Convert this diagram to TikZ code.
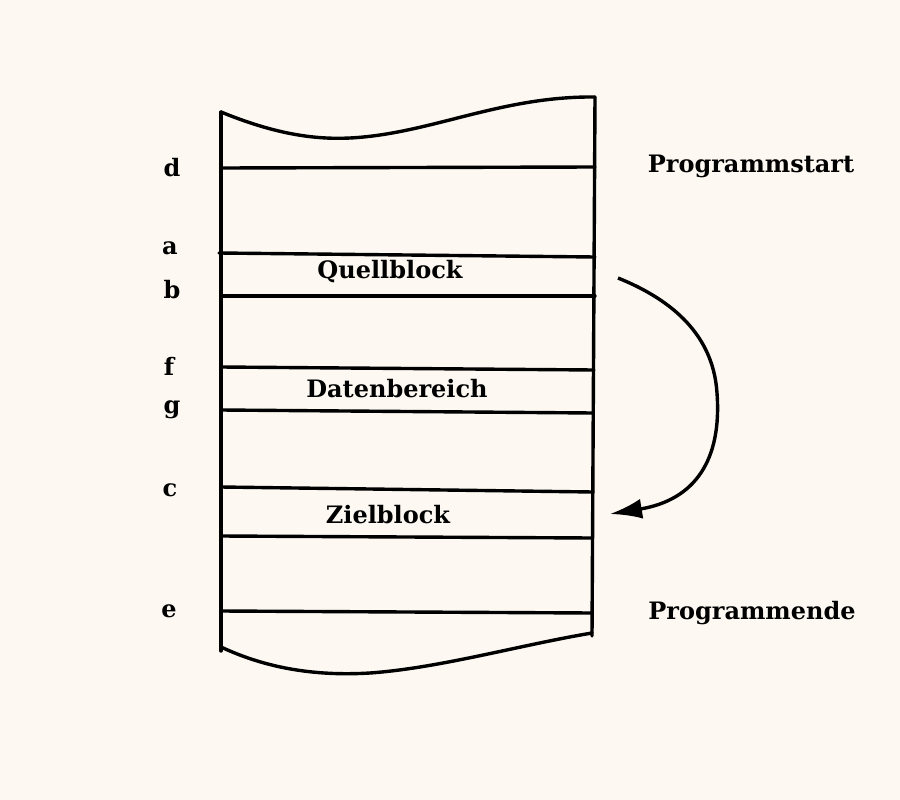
\documentclass[tikz,border=0pt]{standalone}
\usepackage{fontspec}
\setmainfont{DejaVu Serif}
\usetikzlibrary{arrows.meta}
\definecolor{bg}{HTML}{FDF9F2}
\begin{document}
\begin{tikzpicture}[x=1pt,y=-1pt,
  ln/.style={line width=3.4pt,line cap=round},
  lbl/.style={font=\fontsize{24}{28}\selectfont\bfseries,inner sep=0pt},
  txt/.style={font=\fontsize{24}{28}\selectfont\bfseries,inner sep=0pt}]
\fill[bg] (0,0) rectangle (900,800);
\useasboundingbox (0,0) rectangle (900,800);
% outline
\draw[ln] (221,112) -- (221,651);
\draw[ln] (595,97) -- (592,636);
\draw[ln] (221,112) .. controls (270,132) and (310,140) .. (350,138)
   .. controls (430,134) and (500,96) .. (595,97);
\draw[ln] (221,647) .. controls (270,670) and (320,676) .. (370,673)
   .. controls (440,668) and (520,645) .. (592,633);
% horizontal lines
\draw[ln] (221,168) -- (595,167);
\draw[ln] (219,253) -- (595,257);
\draw[ln] (221,296) -- (595,296);
\draw[ln] (221,367) -- (594,370);
\draw[ln] (221,410) -- (593,413);
\draw[ln] (221,487) -- (593,492);
\draw[ln] (221,536) -- (592,538);
\draw[ln] (221,611) -- (592,613);
% left labels
\node[lbl] (ld) at (172,168) {d};
\node[lbl] (la) at (170,248) {a};
\node[lbl] (lb) at (172,290) {b};
\node[lbl] (lf) at (169,366) {f};
\node[lbl] (lg) at (172,410) {g};
\node[lbl] (lc) at (170,490) {c};
\node[lbl] (le) at (169,611) {e};
% block texts
\node[txt] (quell) at (390,272) {Quellblock};
\node[txt] (daten) at (397,389) {Datenbereich};
\node[txt] (ziel) at (388,515) {Zielblock};
\node[txt] (pstart) at (751,166) {Programmstart};
\node[txt] (pende) at (752,613) {Programmende};
% arrow
\coordinate (as) at (618,278);
\coordinate (am) at (717,393);
\coordinate (ae) at (610,514);
\draw[line width=3.4pt,-{Latex[length=32pt,width=20pt]}] (as)
  .. controls (665,297) and (713,330) .. (am)
  .. controls (722,460) and (695,500) .. (ae);
\end{tikzpicture}
\end{document}
